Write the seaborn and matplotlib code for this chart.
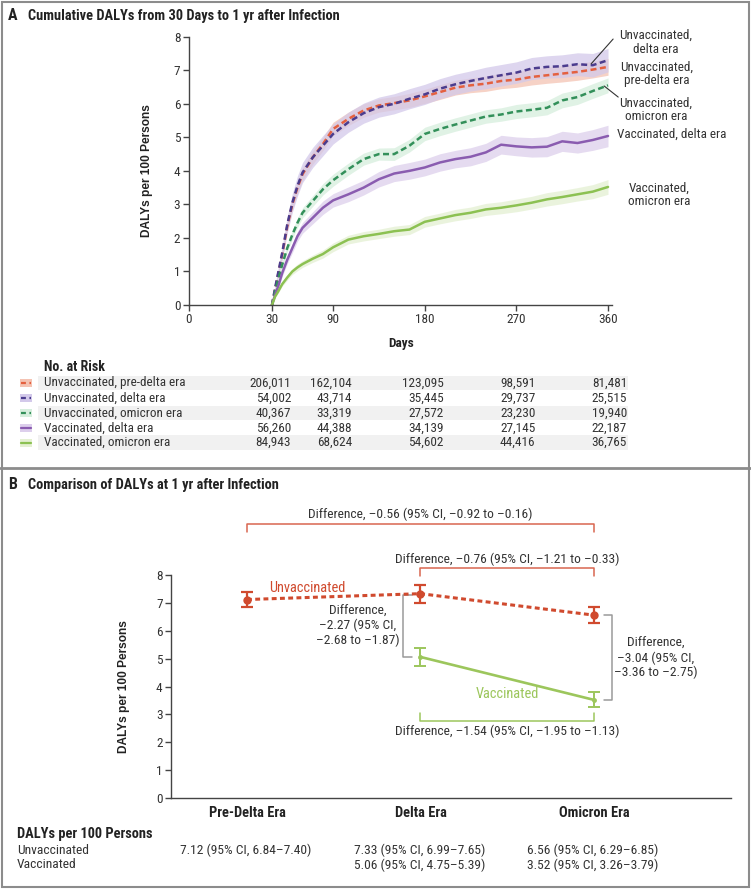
import numpy as np
import pandas as pd
import matplotlib
matplotlib.use("Agg")
import matplotlib.pyplot as plt
import matplotlib.transforms as mtrans
from matplotlib import font_manager
from matplotlib.lines import Line2D
from matplotlib.patches import Rectangle
import seaborn as sns

# ---- data: panel A (cumulative DALYs per 100 persons) ----
days = [30, 33, 36, 40, 45, 50, 55, 60, 70, 80, 90, 105, 120, 135, 150, 165,
        180, 195, 210, 225, 240, 255, 270, 285, 300, 315, 330, 345, 360]

unvac_predelta = [0, 0.45, 0.9, 1.5, 2.35, 3.0, 3.5, 3.9, 4.4, 4.8, 5.25, 5.55, 5.8, 5.95,
                  6.02, 6.1, 6.22, 6.35, 6.48, 6.55, 6.6, 6.68, 6.72, 6.8, 6.85, 6.9, 6.95, 7.02, 7.1]
unvac_delta = [0, 0.5, 0.95, 1.55, 2.4, 3.05, 3.55, 3.95, 4.4, 4.75, 5.1, 5.45, 5.72, 5.9,
               6.0, 6.15, 6.28, 6.45, 6.58, 6.68, 6.77, 6.85, 6.93, 7.05, 7.1, 7.12, 7.18, 7.15, 7.3]
unvac_omicron = [0, 0.4, 0.75, 1.2, 1.7, 2.1, 2.45, 2.75, 3.1, 3.45, 3.72, 4.05, 4.35, 4.5,
                 4.5, 4.75, 5.1, 5.25, 5.38, 5.5, 5.62, 5.68, 5.77, 5.82, 5.88, 6.1, 6.2, 6.38, 6.55]
vac_delta = [0, 0.3, 0.55, 0.95, 1.35, 1.7, 2.05, 2.3, 2.6, 2.9, 3.12, 3.3, 3.5, 3.75,
             3.92, 4.0, 4.1, 4.25, 4.35, 4.42, 4.55, 4.78, 4.73, 4.7, 4.72, 4.88, 4.83, 4.92, 5.04]
vac_omicron = [0, 0.25, 0.4, 0.62, 0.82, 1.0, 1.12, 1.22, 1.38, 1.52, 1.72, 1.95, 2.05, 2.12,
               2.2, 2.25, 2.48, 2.58, 2.68, 2.75, 2.85, 2.9, 2.97, 3.05, 3.15, 3.22, 3.3, 3.38, 3.52]

# half widths of the shaded 95% bands
hw_unvac_predelta = [0, 0.05, 0.1, 0.12, 0.15, 0.17, 0.18, 0.19, 0.2, 0.2, 0.2, 0.2, 0.2, 0.2, 0.2,
                     0.21, 0.21, 0.22, 0.22, 0.22, 0.23, 0.23, 0.23, 0.24, 0.24, 0.25, 0.25, 0.25, 0.25]
hw_unvac_delta = [0, 0.08, 0.15, 0.2, 0.25, 0.28, 0.3, 0.3, 0.3, 0.3, 0.3, 0.3, 0.3, 0.3, 0.3,
                  0.3, 0.3, 0.3, 0.3, 0.3, 0.32, 0.32, 0.32, 0.33, 0.33, 0.34, 0.34, 0.35, 0.35]
hw_unvac_omicron = [0, 0.05, 0.08, 0.1, 0.12, 0.13, 0.14, 0.15, 0.16, 0.17, 0.18, 0.18, 0.18, 0.18, 0.19,
                    0.19, 0.2, 0.2, 0.2, 0.2, 0.2, 0.2, 0.21, 0.21, 0.21, 0.22, 0.22, 0.22, 0.22]
hw_vac_delta = [0, 0.05, 0.08, 0.1, 0.12, 0.14, 0.15, 0.16, 0.18, 0.2, 0.2, 0.22, 0.22, 0.23, 0.24,
                0.25, 0.25, 0.26, 0.26, 0.27, 0.27, 0.28, 0.28, 0.29, 0.3, 0.3, 0.3, 0.31, 0.32]
hw_vac_omicron = [0, 0.03, 0.05, 0.06, 0.08, 0.09, 0.1, 0.1, 0.11, 0.12, 0.13, 0.13, 0.14, 0.14, 0.15,
                  0.15, 0.16, 0.16, 0.17, 0.17, 0.18, 0.18, 0.19, 0.19, 0.2, 0.2, 0.2, 0.21, 0.22]

series_names = ["Unvaccinated, pre-delta era", "Unvaccinated, delta era", "Unvaccinated, omicron era",
                "Vaccinated, delta era", "Vaccinated, omicron era"]
series_vals = [unvac_predelta, unvac_delta, unvac_omicron, vac_delta, vac_omicron]
series_hw = [hw_unvac_predelta, hw_unvac_delta, hw_unvac_omicron, hw_vac_delta, hw_vac_omicron]

risk_days = [30, 90, 180, 270, 360]
risk_predelta = ["206,011", "162,104", "123,095", "98,591", "81,481"]
risk_delta = ["54,002", "43,714", "35,445", "29,737", "25,515"]
risk_omicron = ["40,367", "33,319", "27,572", "23,230", "19,940"]
risk_vac_delta = ["56,260", "44,388", "34,139", "27,145", "22,187"]
risk_vac_omicron = ["84,943", "68,624", "54,602", "44,416", "36,765"]
risk_rows = [risk_predelta, risk_delta, risk_omicron, risk_vac_delta, risk_vac_omicron]

# ---- data: panel B ----
eras = ["Pre-Delta Era", "Delta Era", "Omicron Era"]
unvac_x = [0, 1, 2]
unvac_est = [7.12, 7.33, 6.56]
unvac_lo = [6.84, 6.99, 6.29]
unvac_hi = [7.40, 7.65, 6.85]
vac_x = [1, 2]
vac_est = [5.06, 3.52]
vac_lo = [4.75, 3.26]
vac_hi = [5.39, 3.79]

# ---- style ----
sns.set_style("ticks")
names = {f.name for f in font_manager.fontManager.ttflist}
NARROW = next((n for n in ["Liberation Sans Narrow", "Roboto Condensed", "Open Sans Condensed",
                           "Liberation Sans"] if n in names), "DejaVu Sans")
plt.rcParams["font.family"] = [NARROW, "DejaVu Sans"]
plt.rcParams["font.size"] = 9.5
WIDE = ["Liberation Sans", "DejaVu Sans"]
TXT = "#333333"

line_cols = ["#E4603F", "#4B3C8E", "#33905A", "#8A5CB0", "#8CC152"]
band_cols = ["#F4C3B3", "#D3C9EA", "#D6EEDD", "#DDCFEC", "#E4F0D2"]
dash_on = [True, True, True, False, False]
RED_B = "#D04A2E"
GREEN_B = "#9CC65C"

W, H = 751, 889
fig = plt.figure(figsize=(W / 100, H / 100), dpi=100)


def fx(px):
    return px / W


def fy(py):
    return 1 - py / H


# frame and separator
fig.add_artist(Rectangle((0.002, 0.002), 0.996, 0.996, transform=fig.transFigure,
                         fill=False, edgecolor="#8c8c8c", lw=1.5))
fig.add_artist(Line2D([0, 1], [fy(468), fy(468)], transform=fig.transFigure, color="#8c8c8c", lw=2))

# ================= panel A =================
fig.text(fx(8), fy(16), "A", fontweight="bold", fontsize=11.5, va="center", color="#222")
fig.text(fx(28), fy(16), "Cumulative DALYs from 30 Days to 1 yr after Infection",
         fontweight="bold", fontsize=10.4, va="center", color="#222")

ax_a = fig.add_axes([fx(188.7), fy(305), (612 - 188.7) / W, (305 - 36.7) / H])

rows = []
for name, vals in zip(series_names, series_vals):
    for d, v in zip(days, vals):
        rows.append({"series": name, "day": d, "daly": v})
df_a = pd.DataFrame(rows)

for name, vals, hw, bc in zip(series_names, series_vals, series_hw, band_cols):
    v = np.array(vals)
    h = np.array(hw)
    ax_a.fill_between(days, v - h, v + h, color=bc, alpha=0.75, lw=0)

dash_map = {n: ((2.4, 1.4) if d else "") for n, d in zip(series_names, dash_on)}
sns.lineplot(data=df_a, x="day", y="daly", hue="series", style="series",
             hue_order=series_names, style_order=series_names,
             palette=dict(zip(series_names, line_cols)), dashes=dash_map,
             linewidth=1.8, errorbar=None, legend=False, ax=ax_a)

X_LEFT = -51.8
ax_a.set_xlim(X_LEFT, 363.9)
ax_a.set_ylim(0, 8)
ax_a.set_xticks([X_LEFT] + risk_days)
ax_a.set_xticklabels(["0"] + [str(d) for d in risk_days])
ax_a.set_yticks(range(0, 9))
sns.despine(ax=ax_a)
for s in ["left", "bottom"]:
    ax_a.spines[s].set_color("#444")
    ax_a.spines[s].set_linewidth(1)
ax_a.tick_params(direction="out", length=4, width=1, color="#444", labelsize=9.5, labelcolor=TXT, pad=2)
ax_a.set_xlabel("")
ax_a.set_ylabel("DALYs per 100 Persons", family=WIDE, fontweight="bold", fontsize=8.6, color="#222")
ax_a.yaxis.set_label_coords((153 - 188.7) / 423.3, 0.5)

# right-hand labels
lab_kw = dict(fontsize=9.5, color=TXT, va="center", linespacing=1.05, clip_on=False)
ax_a.text(407, 7.83, "Unvaccinated,\ndelta era", ha="center", multialignment="center", **lab_kw)
ax_a.text(408, 6.89, "Unvaccinated,\npre-delta era", ha="center", multialignment="center", **lab_kw)
ax_a.text(407, 5.81, "Unvaccinated,\nomicron era", ha="center", multialignment="center", **lab_kw)
ax_a.text(369, 5.10, "Vaccinated, delta era", ha="left", **lab_kw)
ax_a.text(410, 3.28, "Vaccinated,\nomicron era", ha="center", multialignment="center", **lab_kw)
ax_a.plot([365, 343.4], [7.93, 7.19], color="#333", lw=0.8, clip_on=False)
ax_a.plot([370, 356.2], [6.2, 6.53], color="#333", lw=0.8, clip_on=False)

fig.text(fx(401), fy(343), "Days", fontweight="bold", fontsize=9.5, ha="center", va="center", color="#222")

# number at risk table
fig.text(fx(44), fy(367), "No. at Risk", fontweight="bold", fontsize=10, va="center", color="#222")
row_y = [383, 398, 413, 428, 442.5]
num_trans = mtrans.offset_copy(mtrans.blended_transform_factory(ax_a.transData, fig.transFigure),
                               fig=fig, x=19, y=0, units="dots")
for i, (name, ry, risk) in enumerate(zip(series_names, row_y, risk_rows)):
    if i % 2 == 0:
        fig.add_artist(Rectangle((fx(38), fy(ry + 7.4)), fx(628) - fx(38), 14.8 / H,
                                 transform=fig.transFigure, color="#F1F1F1", lw=0, zorder=0))
    fig.add_artist(Rectangle((fx(20), fy(ry + 4)), 12 / W, 8 / H, transform=fig.transFigure,
                             color=band_cols[i], lw=0))
    fig.add_artist(Line2D([fx(21), fx(31)], [fy(ry), fy(ry)], transform=fig.transFigure,
                          color=line_cols[i], lw=1.6,
                          linestyle=(0, (2.2, 1.6)) if dash_on[i] else "-"))
    fig.text(fx(44), fy(ry), name, fontsize=9.5, va="center", color=TXT)
    for d, r in zip(risk_days, risk):
        fig.text(d, fy(ry), r, transform=num_trans, ha="right", va="center", fontsize=9.5, color=TXT)

# ================= panel B =================
fig.text(fx(8), fy(485), "B", fontweight="bold", fontsize=11.5, va="center", color="#222")
fig.text(fx(28), fy(485), "Comparison of DALYs at 1 yr after Infection",
         fontweight="bold", fontsize=10.4, va="center", color="#222")

ax_b = fig.add_axes([fx(171), fy(798), (731 - 171) / W, (798 - 575) / H])

u_err = [np.subtract(unvac_est, unvac_lo), np.subtract(unvac_hi, unvac_est)]
v_err = [np.subtract(vac_est, vac_lo), np.subtract(vac_hi, vac_est)]
ax_b.errorbar(unvac_x, unvac_est, yerr=u_err, fmt="none", ecolor=RED_B, elinewidth=1.6,
              capsize=4.5, capthick=1.6, zorder=3)
ax_b.errorbar(vac_x, vac_est, yerr=v_err, fmt="none", ecolor=GREEN_B, elinewidth=1.4,
              capsize=4.5, capthick=1.4, zorder=3)
sns.lineplot(x=unvac_x, y=unvac_est, color=RED_B, linewidth=2.2, ax=ax_b, marker="o",
             markersize=6, markeredgewidth=0, errorbar=None, zorder=4)
ax_b.lines[-1].set_dashes((1.6, 1.1))
sns.lineplot(x=vac_x, y=vac_est, color=GREEN_B, linewidth=1.9, ax=ax_b, marker="o",
             markersize=3.5, markeredgewidth=0, errorbar=None, zorder=4)

ax_b.set_xlim(-0.438, 2.79)
ax_b.set_ylim(0, 8)
ax_b.set_xticks([0, 1, 2])
ax_b.set_xticklabels(eras, fontweight="bold", fontsize=10.4, color="#222")
ax_b.set_yticks(range(0, 9))
sns.despine(ax=ax_b)
for s in ["left", "bottom"]:
    ax_b.spines[s].set_color("#444")
    ax_b.spines[s].set_linewidth(1)
ax_b.tick_params(axis="y", direction="out", length=4, width=1, color="#444", labelsize=9.5,
                 labelcolor=TXT, pad=2)
ax_b.tick_params(axis="x", length=0, pad=6)
ax_b.set_xlabel("")
ax_b.set_ylabel("DALYs per 100 Persons", family=WIDE, fontweight="bold", fontsize=8.6, color="#222")
ax_b.yaxis.set_label_coords((130 - 171) / 560, 0.5)

ax_b.text(0.35, 7.55, "Unvaccinated", color=RED_B, fontsize=10.4, ha="center", va="center")
ax_b.text(1.5, 3.74, "Vaccinated", color=GREEN_B, fontsize=10.4, ha="center", va="center")

# difference brackets
br_kw = dict(lw=1.1, clip_on=False)
ax_b.plot([0, 0, 2, 2], [9.54, 9.82, 9.82, 9.54], color="#D9664F", **br_kw)
ax_b.text(1, 10.19, "Difference, –0.56 (95% CI, –0.92 to –0.16)", ha="center", va="center",
          color=TXT, fontsize=9.7)
ax_b.plot([1, 1, 2, 2], [7.96, 8.25, 8.25, 7.96], color="#D9664F", **br_kw)
ax_b.text(1.5, 8.57, "Difference, –0.76 (95% CI, –1.21 to –0.33)", ha="center", va="center",
          color=TXT, fontsize=9.7)
ax_b.plot([1, 1, 2, 2], [3.05, 2.76, 2.76, 3.05], color=GREEN_B, **br_kw)
ax_b.text(1.5, 2.4, "Difference, –1.54 (95% CI, –1.95 to –1.13)", ha="center", va="center",
          color=TXT, fontsize=9.7)
ax_b.plot([1 - 0.046, 1 - 0.098, 1 - 0.098, 1 - 0.046], [7.3, 7.3, 5.06, 5.06], color="#9a9a9a", **br_kw)
ax_b.text(0.637, 6.17, "Difference,\n–2.27 (95% CI,\n–2.68 to –1.87)", ha="center", va="center",
          multialignment="center", color=TXT, fontsize=9.7, linespacing=1.1)
ax_b.plot([2.058, 2.104, 2.104, 2.058], [6.56, 6.56, 3.52, 3.52], color="#9a9a9a", **br_kw)
ax_b.text(2.357, 5.02, "Difference,\n–3.04 (95% CI,\n–3.36 to –2.75)", ha="center", va="center",
          multialignment="center", color=TXT, fontsize=9.7, linespacing=1.1)

# values table under panel B
fig.text(fx(17), fy(834), "DALYs per 100 Persons", fontweight="bold", fontsize=10.4, va="center", color="#222")
fig.text(fx(17), fy(850), "Unvaccinated", fontsize=9.7, va="center", color=TXT)
fig.text(fx(17), fy(865), "Vaccinated", fontsize=9.7, va="center", color=TXT)
col_x = [180, 354, 527]
for x, e, lo, hi in zip(unvac_x, unvac_est, unvac_lo, unvac_hi):
    fig.text(fx(col_x[x]), fy(850), f"{e:.2f} (95% CI, {lo:.2f}–{hi:.2f})", fontsize=9.7,
             va="center", color=TXT)
for x, e, lo, hi in zip(vac_x, vac_est, vac_lo, vac_hi):
    fig.text(fx(col_x[x]), fy(865), f"{e:.2f} (95% CI, {lo:.2f}–{hi:.2f})", fontsize=9.7,
             va="center", color=TXT)

fig.savefig("out.png", dpi=100)
